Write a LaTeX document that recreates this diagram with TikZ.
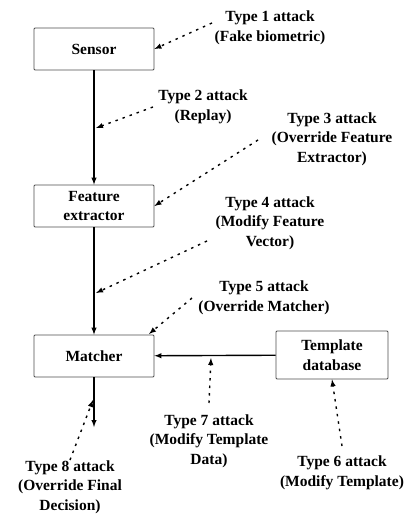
\documentclass[tikz,border=0pt]{standalone}
\usepackage{fontspec}
\setmainfont{Liberation Serif}
\usetikzlibrary{arrows,positioning}
\tikzset{>=latex}
\newcommand{\attacktext}{\fontsize{15.5}{19.5}\selectfont\bfseries}
\tikzset{
  block/.style={draw=black!70, line width=0.8pt, rounded corners=1pt, minimum width=120pt, minimum height=42pt, align=center, inner sep=0pt, font=\attacktext},
  attack/.style={align=center, inner sep=0pt, font=\attacktext},
  flow/.style={->, line width=1.4pt},
  hit/.style={->, line width=1.4pt, dash pattern=on 2.5pt off 5pt},
}

\begin{document}
\begin{tikzpicture}[x=1pt,y=-1pt]
	\useasboundingbox (0,0) rectangle (409,514);

	% Defining the blocks
	\node[block] (sensor) at (94,49) {Sensor}; %Sensor
	\node[block] (extractor) at (94,206) {Feature\\extractor}; %Feature extractor
	\node[block] (matcher) at (94,356) {Matcher}; %Matcher
	\node[block, minimum width=112pt, minimum height=48pt] (template) at (332,355) {Template\\database}; %Template database
	\coordinate (decision) at (94,427); %Final decision

	% Defining the attack labels
	\node[attack] (t1) at (270,28) {Type 1 attack\\(Fake biometric)};
	\node[attack] (t2) at (203,107) {Type 2 attack\\(Replay)};
	\node[attack] (t3) at (332,139) {Type 3 attack\\(Override Feature\\Extractor)};
	\node[attack] (t4) at (270,223) {Type 4 attack\\(Modify Feature\\Vector)};
	\node[attack] (t5) at (264,298) {Type 5 attack\\(Override Matcher)};
	\node[attack] (t6) at (342,473) {Type 6 attack\\(Modify Template)};
	\node[attack] (t7) at (209,441) {Type 7 attack\\(Modify Template\\Data)};
	\node[attack] (t8) at (70,487) {Type 8 attack\\(Override Final\\Decision)};

	% Start and end points of the attacks
	\coordinate (s1) at (212,23);
	\coordinate (s2) at (153,107);
	\coordinate (e2) at (96,128);
	\coordinate (s3) at (258,140);
	\coordinate (s4) at (207,241);
	\coordinate (e4) at (96,293);
	\coordinate (s5) at (192,298);
	\coordinate (e5) at (149,334);
	\coordinate (s6) at (342,446);
	\coordinate (s7) at (209,403);
	\coordinate (e7) at (211,358);
	\coordinate (s8) at (70,460);
	\coordinate (e8) at (93,400);

	% Drawing the flow
	\draw[flow] (sensor) -- (extractor);
	\draw[flow] (extractor) -- (matcher);
	\draw[flow] (template) -- (matcher);
	\draw[flow] (matcher) -- (decision);

	% Drawing the attacks
	\draw[hit] (s1) -- (sensor.east);
	\draw[hit] (s2) -- (e2);
	\draw[hit] (s3) -- (extractor.east);
	\draw[hit] (s4) -- (e4);
	\draw[hit] (s5) -- (e5);
	\draw[hit] (s6) -- (template.south);
	\draw[hit] (s7) -- (e7);
	\draw[hit] (s8) -- (e8);
\end{tikzpicture}
\end{document}
